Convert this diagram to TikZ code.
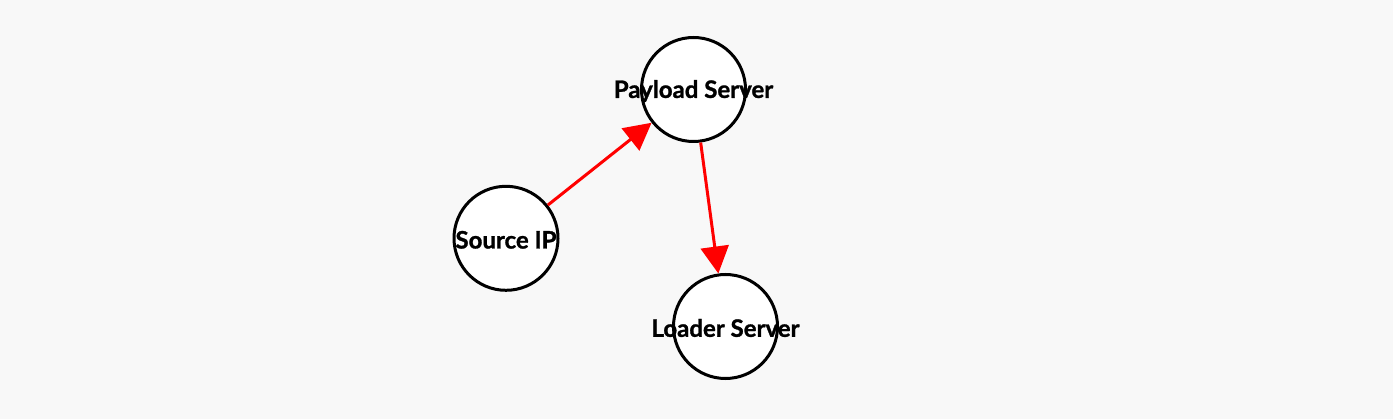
\documentclass[tikz,border=0pt]{standalone}
\usepackage{fontspec}
\setmainfont{Lato}[BoldFeatures={FakeBold=1.2}]
\usetikzlibrary{arrows.meta}
\definecolor{canvas}{HTML}{F8F8F8}

\begin{document}
\begin{tikzpicture}[x=1pt, y=-1pt,
  host/.style={draw, circle, fill=white, line width=3pt, minimum size=104pt, inner sep=0pt,
    label={[font=\bfseries\fontsize{24}{28}\selectfont, yshift=-1.5pt]center:#1}},
  flow/.style={draw=red, line width=3pt, -{Triangle[length=27pt,width=28pt]}}]
\fill[canvas] (0,0) rectangle (1393,419);
\node[host=Payload Server] (payload) at (693.5,89.5) {};
\node[host=Source IP] (source) at (506,238.3) {};
\node[host=Loader Server] (loader) at (725.5,326.5) {};
\draw[flow] (source) -- (payload);
\draw[flow] (payload) -- (loader);
\end{tikzpicture}
\end{document}
